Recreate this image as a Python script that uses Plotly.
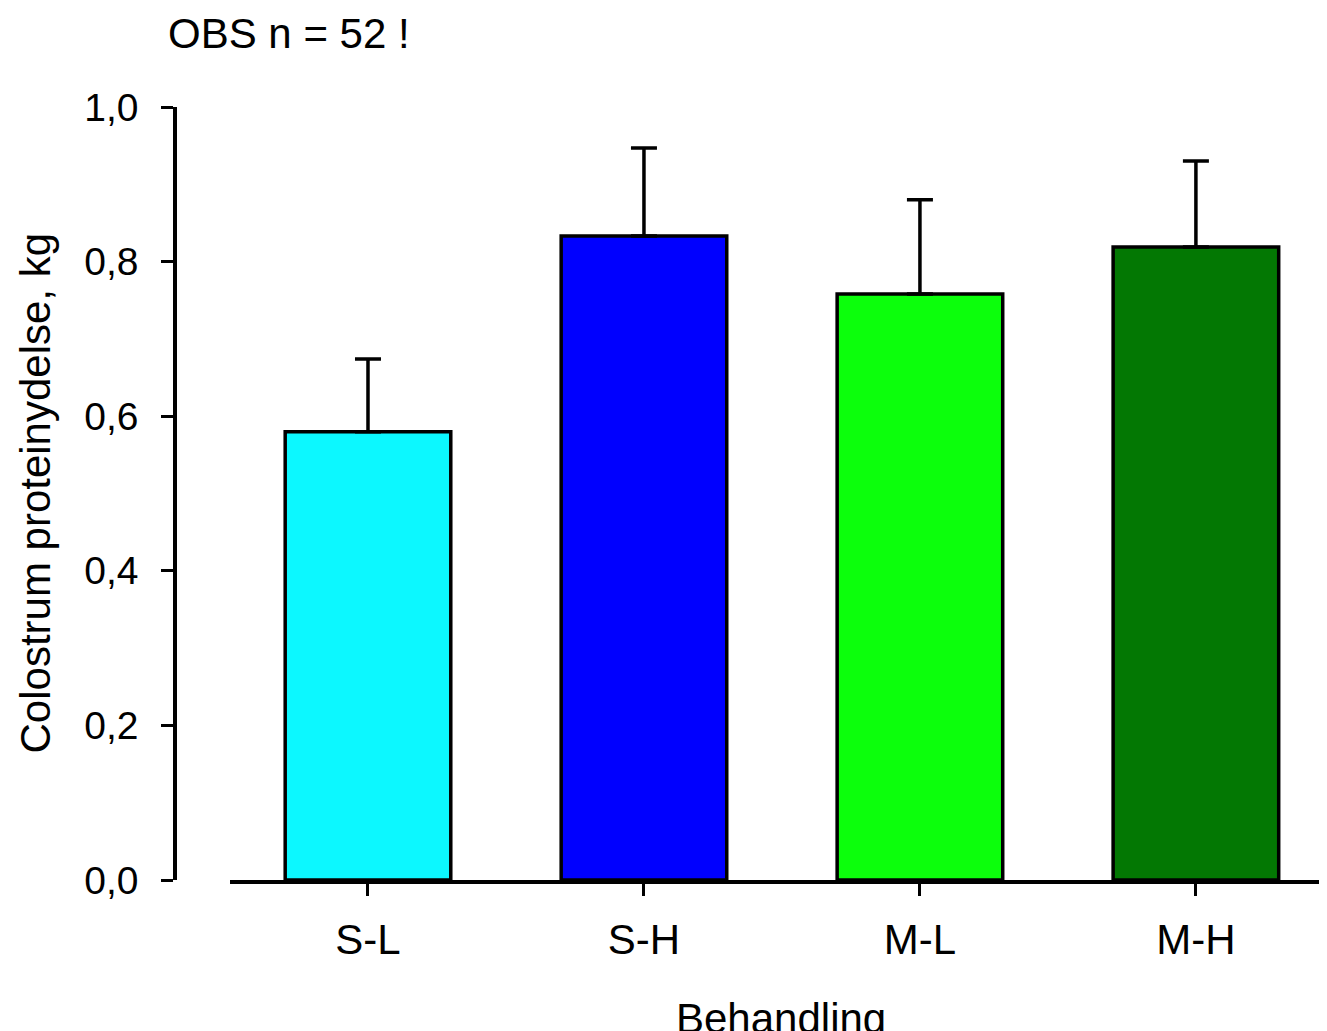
import plotly.graph_objects as go

categories = ["S-L", "S-H", "M-L", "M-H"]
means = [0.580, 0.833, 0.758, 0.819]
errors = [0.094, 0.114, 0.122, 0.111]
colors = ["#0cf8ff", "#0000ff", "#0cff0c", "#037803"]
y_ticks = [0.0, 0.2, 0.4, 0.6, 0.8, 1.0]

O = 8  # page body margin offset
W, H = 1327 - O, 1031 - O
MT = 107 - O
MB = H - (880 - O)
font = "Liberation Sans, Arial, sans-serif"

fig = go.Figure(go.Bar(
    x=categories, y=means, width=0.6,
    marker=dict(color=colors, line=dict(color="black", width=3.5)),
    error_y=dict(type="data", symmetric=False, array=errors,
                 arrayminus=[0] * len(errors), color="black",
                 thickness=3.5, width=13),
))

ph = H - MT - MB
fig.update_layout(
    width=W, height=H, margin=dict(l=0, r=0, t=MT, b=MB),
    paper_bgcolor="white", plot_bgcolor="white",
    separators=",.", showlegend=False,
    font=dict(family=font, color="black", size=42),
    xaxis=dict(domain=[(230 - O) / W, 1], range=[-0.5, 3.475],
               showline=True, linecolor="black", linewidth=3.5,
               ticks="outside", ticklen=12, tickwidth=2.5, tickcolor="black",
               showgrid=False, zeroline=False,
               tickfont=dict(size=42), ticklabelstandoff=8),
    yaxis=dict(range=[0, 1], anchor="free", position=(175 - O) / W,
               showline=True, linecolor="black", linewidth=3.5,
               ticks="outside", ticklen=12, tickwidth=2.5, tickcolor="black",
               tickvals=y_ticks, tickformat=".1f",
               showgrid=False, zeroline=False,
               tickfont=dict(size=39), ticklabelstandoff=15),
    annotations=[
        dict(text="Colostrum proteinydelse, kg", textangle=-90,
             xref="paper", yref="paper", x=(35 - O) / W, y=0.5,
             xanchor="center", yanchor="middle", showarrow=False,
             font=dict(size=42)),
        dict(text="Behandling", xref="paper", yref="paper",
             x=(781 - O) / W, y=(880 - 993) / ph,
             xanchor="center", yanchor="top", showarrow=False,
             font=dict(size=42)),
        dict(text="OBS n = 52 !", xref="paper", yref="paper",
             x=(166 - O) / W, y=(880 - 8) / ph,
             xanchor="left", yanchor="top", showarrow=False,
             font=dict(size=42)),
    ],
)

fig.write_html("out.html")
